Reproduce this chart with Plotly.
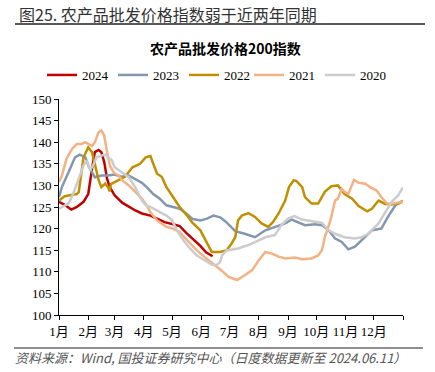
import plotly.graph_objects as go

# ---------------- data (day of year -> index value) ----------------
month_ticks = [0, 31, 59, 90, 120, 151, 181, 212, 243, 273, 304, 334, 365]
month_labels = ["1月", "2月", "3月", "4月", "5月", "6月", "7月", "8月", "9月", "10月", "11月", "12月", ""]
y_ticks = [100, 105, 110, 115, 120, 125, 130, 135, 140, 145, 150]

days_2024 = [0, 6, 13, 19, 26, 31, 35, 38, 42, 45, 48, 51, 54, 59, 67, 74, 81, 88, 97, 104, 112, 121, 128, 135, 142, 150, 156, 163]
vals_2024 = [126.2, 125.5, 124.4, 125.0, 126.2, 128.0, 133.8, 137.7, 138.2, 137.7, 135.4, 131.5, 129.6, 127.7, 126.0, 125.0,
             124.2, 123.5, 123.0, 122.3, 121.5, 121.0, 120.6, 119.0, 117.6, 116.0, 114.5, 113.6]

days_2023 = [0, 3, 10, 17, 22, 28, 31, 35, 38, 45, 52, 59, 66, 74, 81, 88, 93, 100, 107, 114, 121, 128, 135, 142, 150,
             157, 164, 171, 177, 187, 197, 208, 219, 229, 240, 247, 254, 261, 272, 279, 286, 293, 300, 307, 314, 321,
             332, 342, 349, 357, 365]
vals_2023 = [127.3, 129.6, 133.0, 136.5, 137.1, 136.5, 134.6, 133.0, 131.9, 132.3, 132.3, 132.5, 132.0, 132.3, 131.5, 130.6,
             129.6, 128.0, 126.9, 125.4, 125.0, 124.6, 123.5, 122.2, 121.9, 122.3, 123.0, 122.6, 121.6, 119.4, 118.8,
             118.0, 119.6, 120.4, 121.2, 122.1, 121.5, 120.8, 121.0, 120.8, 119.6, 117.7, 116.9, 115.2, 115.8, 117.3,
             119.6, 120.0, 122.7, 125.4, 126.4]

days_2022 = [0, 6, 13, 19, 21, 23, 26, 31, 35, 38, 42, 45, 49, 52, 54, 55, 59, 63, 70, 78, 86, 92, 97, 100, 104, 109,
             114, 121, 128, 136, 141, 150, 157, 162, 171, 178, 183, 187, 190, 194, 201, 208, 215, 222, 227, 233, 240,
             244, 249, 252, 258, 261, 268, 275, 282, 289, 296, 303, 311, 318, 327, 332, 339, 346, 353, 360, 365]
vals_2022 = [126.5, 127.5, 127.8, 128.0, 128.5, 132.0, 136.5, 138.8, 137.7, 135.0, 131.2, 129.6, 130.4, 129.6, 128.6,
             130.3, 130.8, 131.2, 132.0, 134.2, 135.0, 136.5, 136.8, 135.0, 132.7, 132.0, 129.6, 127.3, 125.0, 123.0,
             121.5, 119.6, 116.5, 114.6, 114.6, 115.0, 116.5, 118.0, 121.9, 123.0, 123.6, 122.7, 121.2, 120.4, 121.5,
             123.5, 126.5, 129.6, 131.2, 131.0, 129.6, 127.3, 125.8, 125.8, 128.5, 129.8, 130.0, 128.0, 126.9, 125.2,
             124.0, 124.6, 126.5, 125.7, 125.6, 125.8, 126.4]

days_2021 = [0, 3, 8, 14, 19, 24, 28, 31, 35, 38, 42, 45, 48, 51, 54, 58, 63, 67, 74, 81, 88, 93, 97, 104, 114, 121,
             128, 136, 146, 157, 167, 173, 180, 189, 197, 205, 212, 219, 226, 233, 240, 250, 258, 268, 275, 279, 282,
             288, 293, 296, 300, 303, 307, 311, 313, 318, 325, 330, 337, 342, 348, 355, 362, 365]
vals_2021 = [130.8, 132.2, 136.2, 138.5, 139.6, 139.6, 140.0, 139.6, 139.1, 140.0, 142.3, 142.7, 141.5, 137.7, 134.6,
             133.0, 132.3, 131.2, 130.0, 128.5, 126.9, 125.4, 123.8, 121.9, 120.4, 120.0, 119.2, 117.3, 115.0, 113.0,
             111.3, 110.2, 108.8, 108.1, 109.2, 110.4, 112.7, 114.6, 114.2, 113.5, 113.1, 113.3, 112.9, 113.1, 113.8,
             115.0, 118.0, 121.9, 126.5, 127.0, 129.2, 128.5, 128.0, 130.4, 131.3, 130.6, 130.4, 129.6, 128.8, 127.3,
             125.8, 125.8, 126.2, 126.3]

days_2020 = [0, 3, 10, 15, 19, 22, 26, 29, 33, 36, 40, 45, 49, 52, 56, 59, 67, 74, 81, 88, 93, 97, 107, 114, 120, 125,
             132, 139, 146, 155, 162, 167, 171, 173, 178, 180, 190, 201, 212, 219, 229, 236, 243, 250, 258, 268, 279,
             286, 293, 303, 314, 321, 328, 339, 346, 353, 360, 365]
vals_2020 = [124.6, 125.0, 125.8, 128.0, 130.4, 132.3, 134.6, 135.8, 133.5, 134.6, 136.5, 136.9, 137.1, 136.5, 135.8,
             134.2, 133.0, 131.9, 129.5, 126.5, 125.2, 125.0, 123.8, 123.0, 121.9, 119.6, 117.3, 115.4, 113.8, 112.7,
             111.7, 111.5, 112.3, 113.8, 115.0, 115.0, 115.4, 116.2, 117.3, 118.0, 118.5, 120.8, 122.3, 122.9, 122.1,
             121.8, 121.3, 119.6, 118.8, 118.0, 117.7, 118.0, 118.8, 121.2, 123.8, 126.2, 127.7, 129.6]

series = [
    ("2024", days_2024, vals_2024, "#C00000", "legend"),
    ("2023", days_2023, vals_2023, "#8497B0", "legend"),
    ("2022", days_2022, vals_2022, "#BF9000", "legend"),
    ("2021", days_2021, vals_2021, "#F4B183", "legend2"),
    ("2020", days_2020, vals_2020, "#CCCCCC", "legend2"),
]

# ---------------- figure ----------------
W, H = 435, 372
L, R, T, B = 59, 32, 99, 57
PW, PH = W - L - R, H - T - B


def px(xp):
    return (xp - L) / PW


def py(yp):
    return (H - B - yp) / PH


SERIF = "Times New Roman, Liberation Serif, Noto Sans CJK SC, serif"
CJK = "Noto Sans CJK SC, sans-serif"

fig = go.Figure()
for name, d, v, c, lg in series:
    fig.add_trace(go.Scatter(x=d, y=v, mode="lines", name=name, legend=lg,
                             line=dict(color=c, width=2.5), hoverinfo="skip"))

legend_common = dict(orientation="h", xref="container", yref="container",
                     y=1 - 75 / H, xanchor="left", yanchor="middle",
                     font=dict(family=SERIF, size=13, color="#000000"),
                     bgcolor="rgba(0,0,0,0)", itemwidth=30, tracegroupgap=0,
                     entrywidth=26, entrywidthmode="pixels")

fig.update_layout(
    width=W, height=H,
    margin=dict(l=L, r=R, t=T, b=B, pad=0, autoexpand=False),
    paper_bgcolor="white", plot_bgcolor="white",
    showlegend=True,
    legend=dict(x=42 / W, **legend_common),
    legend2=dict(x=249 / W, **legend_common),
    xaxis=dict(range=[0, 365], tickvals=month_ticks, ticktext=month_labels,
               showgrid=False, zeroline=False, showline=True, linecolor="#000000", linewidth=1,
               ticks="outside", ticklen=4, tickcolor="#000000", tickwidth=1,
               tickfont=dict(family=SERIF, size=13, color="#000000")),
    yaxis=dict(range=[100, 150], tickvals=y_ticks,
               showgrid=False, zeroline=False, showline=True, linecolor="#000000", linewidth=1,
               ticks="outside", ticklen=4, tickcolor="#000000", tickwidth=1,
               tickfont=dict(family=SERIF, size=13, color="#000000")),
)

fig.add_annotation(text="图25. 农产品批发价格指数弱于近两年同期", xref="paper", yref="paper",
                   x=px(17), y=py(14), xanchor="left", yanchor="middle", showarrow=False,
                   font=dict(family=CJK, size=16, color="#333333"))
fig.add_shape(type="line", xref="paper", yref="paper", x0=px(15), x1=px(425), y0=py(24), y1=py(24),
              line=dict(color="#222222", width=1.5))
fig.add_annotation(text="<b>农产品批发价格200指数</b>", xref="paper", yref="paper",
                   x=px(225), y=py(48), xanchor="center", yanchor="middle", showarrow=False,
                   font=dict(family=CJK, size=14, color="#000000"))
fig.add_shape(type="line", xref="paper", yref="paper", x0=px(14), x1=px(423), y0=py(348), y1=py(348),
              line=dict(color="#222222", width=1.2))
fig.add_annotation(text="资料来源：Wind, 国投证券研究中心（日度数据更新至 2024.06.11）", xref="paper", yref="paper",
                   x=px(13), y=py(357), xanchor="left", yanchor="middle", showarrow=False,
                   font=dict(family=CJK, size=13, color="#555555", style="italic"))

fig.write_html("out.html", config={"displayModeBar": False},
               post_script="document.body.style.margin='0';document.body.style.overflow='hidden';")
